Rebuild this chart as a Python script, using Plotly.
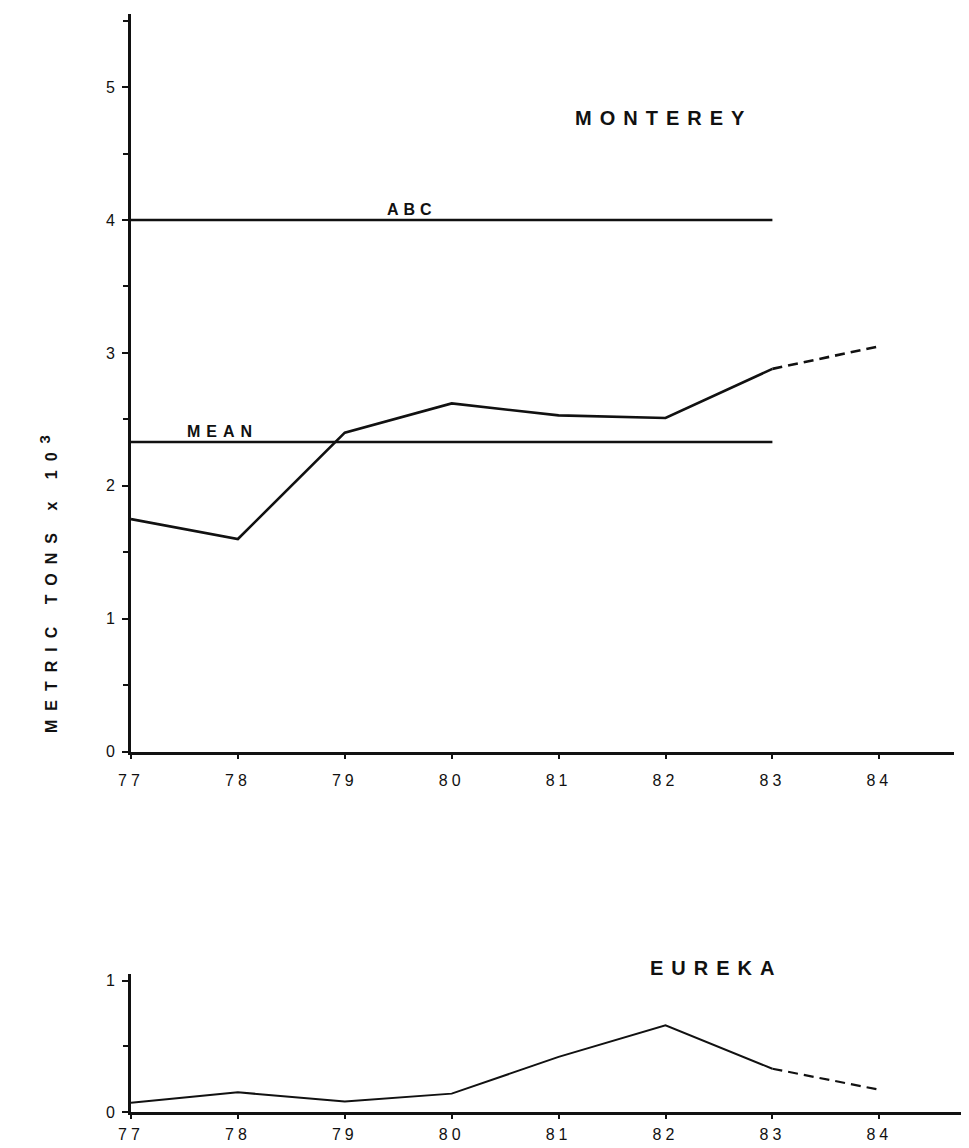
import plotly.graph_objects as go

# ---- data ----
years = [77, 78, 79, 80, 81, 82, 83, 84]
year_labels = ["77", "78", "79", "80", "81", "82", "83", "84"]

monterey_years = [77, 78, 79, 80, 81, 82, 83]
monterey_vals = [1.75, 1.60, 2.40, 2.62, 2.53, 2.51, 2.88]
monterey_proj_years = [83, 84]
monterey_proj_vals = [2.88, 3.05]

abc_years = [77, 83]
abc_vals = [4.0, 4.0]
mean_years = [77, 83]
mean_vals = [2.33, 2.33]

eureka_years = [77, 78, 79, 80, 81, 82, 83]
eureka_vals = [0.07, 0.15, 0.08, 0.14, 0.42, 0.66, 0.33]
eureka_proj_years = [83, 84]
eureka_proj_vals = [0.33, 0.17]

top_yticks = [0, 1, 2, 3, 4, 5]
bot_yticks = [0, 1]

FONT = "Liberation Sans"
BLACK = "#111111"

spaced_year_labels = [f'<span style="letter-spacing:4px">{t}</span>' for t in year_labels]

fig = go.Figure()

# top panel (Monterey)
fig.add_trace(go.Scatter(x=abc_years, y=abc_vals, mode="lines",
                         line=dict(color=BLACK, width=2.6), xaxis="x", yaxis="y"))
fig.add_trace(go.Scatter(x=mean_years, y=mean_vals, mode="lines",
                         line=dict(color=BLACK, width=2.6), xaxis="x", yaxis="y"))
fig.add_trace(go.Scatter(x=monterey_years, y=monterey_vals, mode="lines",
                         line=dict(color=BLACK, width=2.6), xaxis="x", yaxis="y"))
fig.add_trace(go.Scatter(x=monterey_proj_years, y=monterey_proj_vals, mode="lines",
                         line=dict(color=BLACK, width=2.6, dash="10px,6px"), xaxis="x", yaxis="y"))

# bottom panel (Eureka)
fig.add_trace(go.Scatter(x=eureka_years, y=eureka_vals, mode="lines",
                         line=dict(color=BLACK, width=2.0), xaxis="x2", yaxis="y2"))
fig.add_trace(go.Scatter(x=eureka_proj_years, y=eureka_proj_vals, mode="lines",
                         line=dict(color=BLACK, width=2.2, dash="10px,6px"), xaxis="x2", yaxis="y2"))

W, H = 969, 1148
L, R, T, B = 123, 4, 4, 44
plot_w = W - L - R
plot_h = H - T - B
px_per_year = 106.9


def py(ypx):
    """pixel row -> paper fraction"""
    return (H - B - ypx) / plot_h


axis_common = dict(showgrid=False, zeroline=False, showline=True, linecolor=BLACK,
                   linewidth=3, ticks="outside", tickcolor=BLACK, tickwidth=2,
                   tickfont=dict(family=FONT, size=16, color=BLACK))

fig.update_layout(
    width=W, height=H,
    margin=dict(l=L, r=R, t=T, b=B),
    paper_bgcolor="white", plot_bgcolor="white",
    showlegend=False,
    xaxis=dict(axis_common, domain=[0, 823 / plot_w], range=[77, 77 + 823 / px_per_year],
               tickvals=years, ticktext=spaced_year_labels, ticklen=4,
               ticklabelstandoff=8, anchor="y"),
    yaxis=dict(axis_common, domain=[py(743), 1.0], range=[0, 5.55],
               tickvals=top_yticks, ticklen=6, ticklabelstandoff=4,
               minor=dict(dtick=0.5, ticklen=5, ticks="outside", tickcolor=BLACK, tickwidth=2),
               anchor="x"),
    xaxis2=dict(axis_common, domain=[0, 1], range=[77, 77 + plot_w / px_per_year],
                tickvals=years, ticktext=spaced_year_labels, ticklen=4,
                ticklabelstandoff=2, anchor="y2"),
    yaxis2=dict(axis_common, domain=[0, py(966)], range=[0, 1.05],
                tickvals=bot_yticks, ticklen=6, ticklabelstandoff=4,
                minor=dict(dtick=0.5, ticklen=5, ticks="outside", tickcolor=BLACK, tickwidth=2),
                anchor="x2"),
)


def label(text, x, y, xref, yref, size, xanchor="center", yanchor="bottom", angle=0):
    fig.add_annotation(
        text=text, x=x, y=y, xref=xref, yref=yref, showarrow=False, textangle=angle,
        xanchor=xanchor, yanchor=yanchor,
        font=dict(family=FONT, size=size, color=BLACK, weight="bold"))


def spaced(text, px):
    return f'<span style="letter-spacing:{px}px">{text}</span>'


label(spaced("MONTEREY", 8), 81.98, 4.77, "x", "y", 20, yanchor="middle")
label(spaced("ABC", 5), 79.63, 4.0, "x", "y", 16)
label(spaced("MEAN", 6), 77.86, 2.33, "x", "y", 16)
label(spaced("EUREKA", 8), 82.47, py(960), "x2", "paper", 20, yanchor="middle")
label(spaced("METRIC TONS x 10", 9) + '<sup><span style="font-size:15px">3</span></sup>',
      (40 - L) / plot_w, py(575), "paper", "paper", 16,
      yanchor="middle", angle=-90)

fig.write_html("out.html")
